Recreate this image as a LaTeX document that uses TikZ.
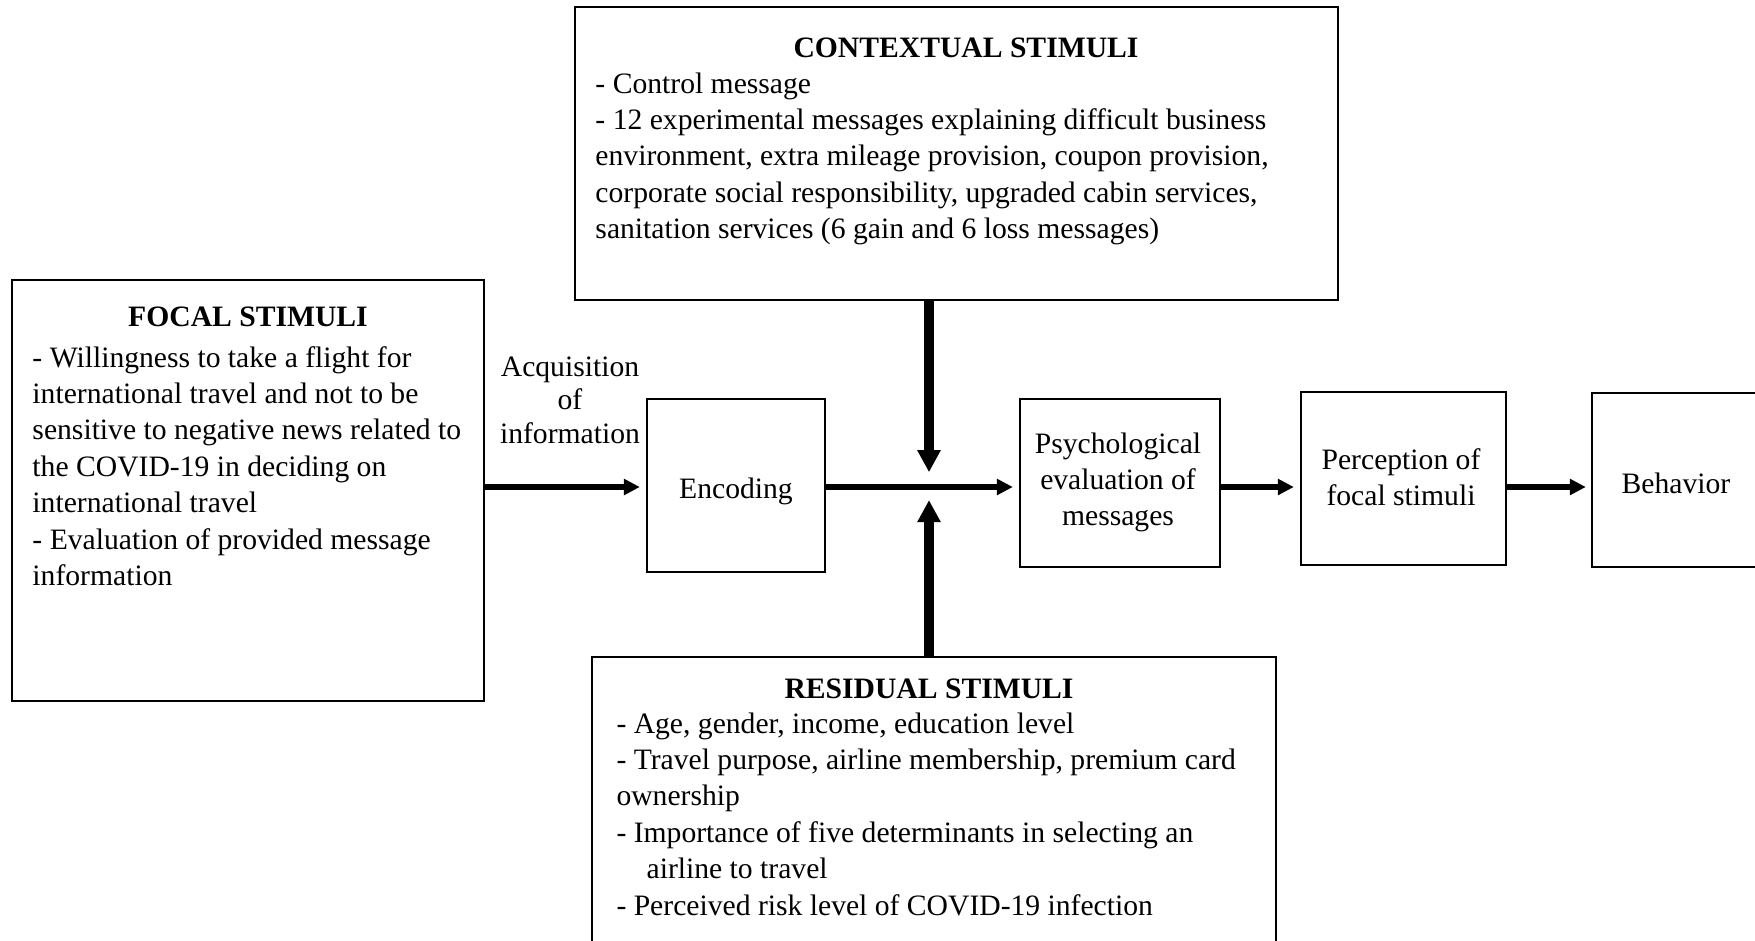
\documentclass[tikz,border=0pt]{standalone}
\usepackage{fontspec}
\setmainfont{Liberation Serif}
\usetikzlibrary{arrows.meta,fit}
\begin{document}
\begin{tikzpicture}[x=0.405pt,y=-0.405pt,
  box/.style={draw, line width=1pt, inner sep=0pt},
  body/.style={font=\fontsize{12}{14.74}\selectfont, inner sep=0pt, align=left, anchor=base west},
  ttl/.style={font=\fontsize{12}{14.74}\selectfont\bfseries, inner sep=0pt, anchor=base},
  ctr/.style={font=\fontsize{12}{14.74}\selectfont, inner sep=0pt, align=center, anchor=base},
  thinarrow/.style={line width=2.43pt, -{Triangle[length=6.5pt,width=6.3pt]}},
  thickarrow/.style={line width=4.05pt, -{Triangle[length=8.9pt,width=8.9pt]}}]
\useasboundingbox (0,0) rectangle (1755,940);
\fill[white] (0,0) rectangle (1755,940);
\clip (0,0) rectangle (1755,940);
% boxes
\node[box, fit={(12,280) (484,701)}] (focal) {};
\node[box, fit={(575,7) (1338,300)}] (ctx) {};
\node[box, fit={(592,657) (1276,990)}] (res) {};
\node[box, fit={(647,399) (825,572)}] (enc) {};
\node[box, fit={(1020,399) (1220,567)}] (psy) {};
\node[box, fit={(1301,392) (1506,565)}] (per) {};
\node[box, fit={(1592,393) (1762,567)}] (beh) {};
% texts (multi-line nodes: base = baseline of last line)
\node[ttl] (focalT) at (248,326) {FOCAL STIMULI};
\node[body] (focalB) at (32,585.4) {- Willingness to take a flight for\\
international travel and not to be\\
sensitive to negative news related to\\
the COVID-19 in deciding on\\
international travel\\
- Evaluation of provided message\\
information};
\node[ttl] (ctxT) at (966,57) {CONTEXTUAL STIMULI};
\node[body] (ctxB) at (595,238.6) {- Control message\\
- 12 experimental messages explaining difficult business\\
environment, extra mileage provision, coupon provision,\\
corporate social responsibility, upgraded cabin services,\\
sanitation services (6 gain and 6 loss messages)};
\node[ttl] (resT) at (929,698) {RESIDUAL STIMULI};
\node[body] (resB) at (616,915) {- Age, gender, income, education level\\
- Travel purpose, airline membership, premium card\\
ownership\\
- Importance of five determinants in selecting an\\
\hspace*{12.2pt}airline to travel\\
- Perceived risk level of COVID-19 infection};
\node[ctr] (encT) at (736,498) {Encoding};
\node[ctr, font=\fontsize{12}{13.4}\selectfont] (acq) at (570,443) {Acquisition\\of\\information};
\node[ctr] (psyT) at (1118,525.8) {Psychological\\evaluation of\\messages};
\node[ctr] (perT) at (1401,505.4) {Perception of\\focal stimuli};
\node[ctr] (behT) at (1676,493) {Behavior};
% connectors
\coordinate (mid) at (929,487);
\draw[thinarrow, shorten >=2.4pt] (focal.east |- mid) -- (enc.west |- mid);
\draw[thinarrow, shorten >=2.4pt] (enc.east |- mid) -- (psy.west |- mid);
\draw[thinarrow, shorten >=2.4pt] (psy.east |- mid) -- (per.west |- mid);
\draw[thinarrow, shorten >=2pt] (per.east |- mid) -- (beh.west |- mid);
\draw[thickarrow, shorten >=6pt] (ctx.south -| mid) -- (mid);
\draw[thickarrow, shorten >=5.3pt] (res.north -| mid) -- (mid);
\end{tikzpicture}
\end{document}
